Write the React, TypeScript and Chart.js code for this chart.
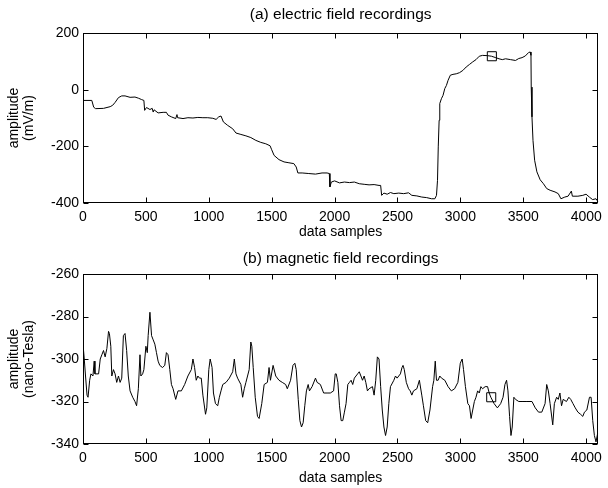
import { useEffect, useRef } from "react";
import { Chart, registerables } from "chart.js";

Chart.register(...registerables);

const FONT = "'Liberation Sans', Arial, Helvetica, sans-serif";

const X_MAX = 4096;
const X_TICKS = [0, 500, 1000, 1500, 2000, 2500, 3000, 3500, 4000];
const E_TICKS = [-400, -200, 0, 200];
const M_TICKS = [-340, -320, -300, -280, -260];

// (a) electric field recordings (mV/m)
const electricX = [0, 70, 85, 100, 163, 216, 236, 255, 282, 308, 334, 374, 413, 440, 466, 484, 490, 505, 532, 550, 558, 565, 597, 637, 663, 676, 703, 737, 747, 752, 795, 834, 874, 913, 953, 992, 1032, 1058, 1079, 1097, 1116, 1150, 1190, 1216, 1255, 1295, 1334, 1374, 1413, 1453, 1487, 1500, 1519, 1558, 1598, 1637, 1676, 1695, 1708, 1742, 1795, 1848, 1900, 1940, 1958, 1963, 1974, 2000, 2039, 2078, 2118, 2157, 2196, 2235, 2274, 2314, 2353, 2366, 2374, 2392, 2418, 2444, 2471, 2510, 2549, 2588, 2614, 2654, 2693, 2732, 2771, 2797, 2810, 2818, 2824, 2831, 2836, 2849, 2862, 2876, 2889, 2902, 2920, 2941, 2967, 2993, 3020, 3046, 3072, 3098, 3124, 3150, 3176, 3216, 3247, 3281, 3307, 3333, 3359, 3399, 3438, 3464, 3490, 3516, 3542, 3555, 3561, 3563, 3569, 3577, 3590, 3608, 3634, 3660, 3686, 3713, 3752, 3778, 3799, 3830, 3856, 3882, 3890, 3934, 3973, 3999, 4025, 4051, 4078, 4095];
const electricY = [-38, -38, -62, -67, -66, -60, -55, -45, -28, -22, -22, -27, -26, -30, -35, -38, -73, -63, -70, -66, -79, -71, -82, -80, -80, -90, -96, -102, -88, -99, -102, -99, -100, -98, -99, -99, -101, -105, -96, -93, -114, -126, -138, -153, -158, -163, -169, -179, -186, -191, -198, -212, -232, -247, -255, -258, -261, -273, -294, -294, -296, -298, -294, -294, -296, -343, -326, -322, -329, -326, -328, -326, -332, -334, -336, -335, -338, -338, -373, -365, -369, -363, -367, -365, -367, -364, -373, -375, -379, -381, -385, -385, -373, -320, -202, -108, -49, -32, -20, 4, 15, 33, 51, 54, 56, 60, 68, 80, 89, 98, 106, 118, 121, 120, 118, 113, 109, 106, 109, 106, 103, 110, 113, 119, 131, 133, 121, 9, -96, -179, -249, -290, -318, -332, -349, -355, -361, -367, -385, -379, -376, -358, -376, -376, -373, -369, -379, -388, -385, -396];
const electricMarker = { x: 3250, y: 118 };

// (b) magnetic field recordings (nano-Tesla)
const magneticX = [0, 10, 20, 32, 40, 53, 63, 79, 89, 95, 124, 137, 150, 163, 176, 190, 203, 210, 221, 229, 242, 255, 268, 282, 295, 308, 321, 334, 347, 360, 374, 395, 413, 426, 440, 453, 460, 474, 484, 500, 511, 518, 532, 545, 558, 571, 584, 597, 610, 632, 650, 663, 676, 690, 703, 716, 737, 755, 782, 808, 834, 861, 874, 887, 900, 913, 926, 940, 953, 974, 984, 1000, 1011, 1026, 1037, 1053, 1071, 1084, 1097, 1111, 1137, 1163, 1190, 1203, 1216, 1229, 1255, 1269, 1282, 1295, 1321, 1334, 1342, 1353, 1369, 1387, 1400, 1421, 1440, 1466, 1479, 1490, 1511, 1532, 1558, 1584, 1611, 1624, 1650, 1669, 1684, 1695, 1711, 1724, 1737, 1750, 1763, 1776, 1790, 1800, 1821, 1848, 1861, 1887, 1913, 1940, 1966, 1992, 2005, 2013, 2026, 2039, 2052, 2065, 2078, 2091, 2105, 2118, 2131, 2144, 2157, 2183, 2196, 2209, 2222, 2235, 2248, 2261, 2274, 2301, 2314, 2327, 2340, 2353, 2366, 2379, 2392, 2405, 2418, 2431, 2444, 2471, 2484, 2497, 2523, 2536, 2544, 2554, 2570, 2588, 2601, 2614, 2627, 2654, 2674, 2693, 2706, 2724, 2740, 2758, 2779, 2789, 2800, 2810, 2823, 2836, 2850, 2876, 2902, 2928, 2954, 2980, 2999, 3014, 3025, 3040, 3059, 3072, 3085, 3098, 3111, 3124, 3137, 3150, 3163, 3176, 3197, 3216, 3229, 3242, 3268, 3294, 3320, 3339, 3354, 3367, 3378, 3391, 3402, 3412, 3425, 3438, 3464, 3490, 3529, 3569, 3595, 3621, 3647, 3673, 3686, 3699, 3713, 3734, 3747, 3765, 3778, 3791, 3804, 3817, 3843, 3862, 3877, 3895, 3913, 3934, 3955, 3973, 3986, 4005, 4026, 4039, 4052, 4065, 4078, 4091];
const magneticY = [-293, -300, -308, -317, -318, -310, -307, -308, -301, -307, -307, -300, -298, -296, -299, -295, -287, -288, -294, -308, -305, -307, -311, -308, -311, -309, -289, -288, -296, -308, -315, -318, -320, -322, -314, -298, -308, -307, -305, -294, -297, -289, -278, -289, -291, -293, -297, -301, -303, -304, -303, -297, -298, -305, -312, -314, -319, -315, -315, -312, -308, -305, -300, -304, -310, -308, -309, -309, -317, -326, -323, -305, -300, -304, -316, -321, -322, -318, -315, -312, -311, -309, -306, -300, -307, -309, -312, -318, -314, -311, -305, -292, -294, -304, -318, -327, -328, -321, -312, -311, -304, -310, -303, -308, -310, -311, -312, -314, -310, -303, -302, -305, -319, -329, -332, -330, -322, -315, -312, -315, -313, -309, -311, -312, -316, -316, -316, -315, -307, -307, -311, -322, -329, -329, -325, -321, -312, -311, -310, -312, -309, -307, -306, -308, -310, -308, -311, -315, -314, -313, -317, -310, -299, -300, -313, -324, -332, -336, -332, -321, -313, -310, -308, -309, -307, -304, -303, -305, -311, -314, -315, -317, -315, -314, -310, -317, -322, -329, -330, -324, -313, -310, -301, -310, -310, -308, -309, -310, -313, -315, -314, -311, -302, -300, -305, -313, -321, -322, -328, -324, -320, -318, -315, -316, -313, -314, -313, -313, -316, -318, -321, -323, -321, -318, -312, -310, -315, -327, -336, -332, -318, -319, -320, -320, -320, -320, -323, -325, -325, -321, -312, -315, -321, -331, -321, -318, -319, -316, -322, -319, -320, -318, -319, -321, -323, -325, -326, -327, -325, -324, -318, -318, -329, -336, -339, -335];
const magneticMarker = { x: 3245, y: -318 };

const inwardTicks = {
  id: "inwardTicks",
  afterDraw(chart: any) {
    const { ctx, chartArea: a, scales } = chart;
    const L = Math.round(a.left) + 0.5;
    const R = Math.round(a.right) - 0.5;
    const T = Math.round(a.top) + 0.5;
    const B = Math.round(a.bottom) - 0.5;
    ctx.save();
    ctx.strokeStyle = "#000";
    ctx.lineWidth = 1;
    ctx.beginPath();
    scales.x.ticks.forEach((t: any) => {
      const px = Math.round(scales.x.getPixelForValue(t.value)) + 0.5;
      ctx.moveTo(px, B);
      ctx.lineTo(px, B - 5);
      ctx.moveTo(px, T);
      ctx.lineTo(px, T + 5);
    });
    scales.y.ticks.forEach((t: any) => {
      const py = Math.round(scales.y.getPixelForValue(t.value)) + 0.5;
      ctx.moveTo(L, py);
      ctx.lineTo(L + 5, py);
      ctx.moveTo(R, py);
      ctx.lineTo(R - 5, py);
    });
    ctx.stroke();
    ctx.strokeRect(L, T, R - L, B - T);
    ctx.restore();
  },
};

type PanelOpts = {
  title: string;
  yTitle: string[];
  xs: number[];
  ys: number[];
  yMin: number;
  yMax: number;
  yTicks: number[];
  marker: { x: number; y: number };
  titlePad: { top: number; bottom: number };
  xAxisHeight: number;
  xTitlePadBottom: number;
};

function makeChart(canvas: HTMLCanvasElement, o: PanelOpts) {
  const font = { family: FONT, size: 14, weight: "normal" as const, lineHeight: 1.2 };
  const titleFont = { family: FONT, size: 15.5, weight: "normal" as const, lineHeight: 1.2 };
  const plain = (v: any) => String(v);
  return new Chart(canvas, {
    type: "line",
    data: {
      datasets: [
        {
          data: o.xs.map((x, i) => ({ x, y: o.ys[i] })),
          borderColor: "#000",
          borderWidth: 1,
          pointRadius: 0,
          tension: 0,
          fill: false,
        },
        {
          data: [o.marker],
          showLine: false,
          pointStyle: "rect",
          pointRadius: 6.4,
          pointBorderColor: "#000",
          pointBackgroundColor: "rgba(0,0,0,0)",
          pointBorderWidth: 1,
          borderColor: "#000",
        },
      ],
    },
    options: {
      responsive: false,
      animation: false,
      layout: { padding: { left: 0, right: 4, top: 0, bottom: 0 } },
      plugins: {
        legend: { display: false },
        tooltip: { enabled: false },
        title: {
          display: true,
          text: o.title,
          fullSize: false,
          color: "#000",
          font: titleFont,
          padding: o.titlePad,
        },
      },
      scales: {
        x: {
          type: "linear",
          min: 0,
          max: X_MAX,
          afterBuildTicks: (s: any) => {
            s.ticks = X_TICKS.map((v) => ({ value: v }));
          },
          afterFit: (s: any) => {
            s.height = o.xAxisHeight;
          },
          grid: { display: false, drawTicks: false, tickLength: 0 },
          border: { display: false },
          ticks: { color: "#000", font, padding: 6, maxRotation: 0, autoSkip: false, callback: plain },
          title: {
            display: true,
            text: "data samples",
            color: "#000",
            font,
            padding: { top: 0, bottom: o.xTitlePadBottom },
          },
        },
        y: {
          type: "linear",
          min: o.yMin,
          max: o.yMax,
          afterBuildTicks: (s: any) => {
            s.ticks = o.yTicks.map((v) => ({ value: v }));
          },
          afterFit: (s: any) => {
            s.width = 83;
          },
          grid: { display: false, drawTicks: false, tickLength: 0 },
          border: { display: false },
          ticks: { color: "#000", font, padding: 4, autoSkip: false, callback: plain },
          title: {
            display: true,
            text: o.yTitle,
            color: "#000",
            font: { ...font, lineHeight: 1.1 },
            padding: { top: 6, bottom: 0 },
          },
        },
      },
    },
    plugins: [inwardTicks],
  } as any);
}

export default function App() {
  const topRef = useRef<HTMLCanvasElement>(null);
  const botRef = useRef<HTMLCanvasElement>(null);

  useEffect(() => {
    const c1 = makeChart(topRef.current!, {
      title: "(a) electric field recordings",
      yTitle: ["amplitude", "(mV/m)"],
      xs: electricX,
      ys: electricY,
      yMin: -400,
      yMax: 200,
      yTicks: E_TICKS,
      marker: electricMarker,
      titlePad: { top: 5, bottom: 9.4 },
      xAxisHeight: 41,
      xTitlePadBottom: 3.6,
    });
    const c2 = makeChart(botRef.current!, {
      title: "(b) magnetic field recordings",
      yTitle: ["amplitude", "(nano-Tesla)"],
      xs: magneticX,
      ys: magneticY,
      yMin: -340,
      yMax: -260,
      yTicks: M_TICKS,
      marker: magneticMarker,
      titlePad: { top: 5.7, bottom: 5.7 },
      xAxisHeight: 44,
      xTitlePadBottom: 1.6,
    });
    return () => {
      c1.destroy();
      c2.destroy();
    };
  }, []);

  return (
    <div style={{ position: "fixed", left: 0, top: 0, width: 608, height: 488, background: "#fff" }}>
      <canvas ref={topRef} width={608} height={244} style={{ position: "absolute", left: 0, top: 0 }} />
      <canvas ref={botRef} width={608} height={244} style={{ position: "absolute", left: 0, top: 244 }} />
    </div>
  );
}
